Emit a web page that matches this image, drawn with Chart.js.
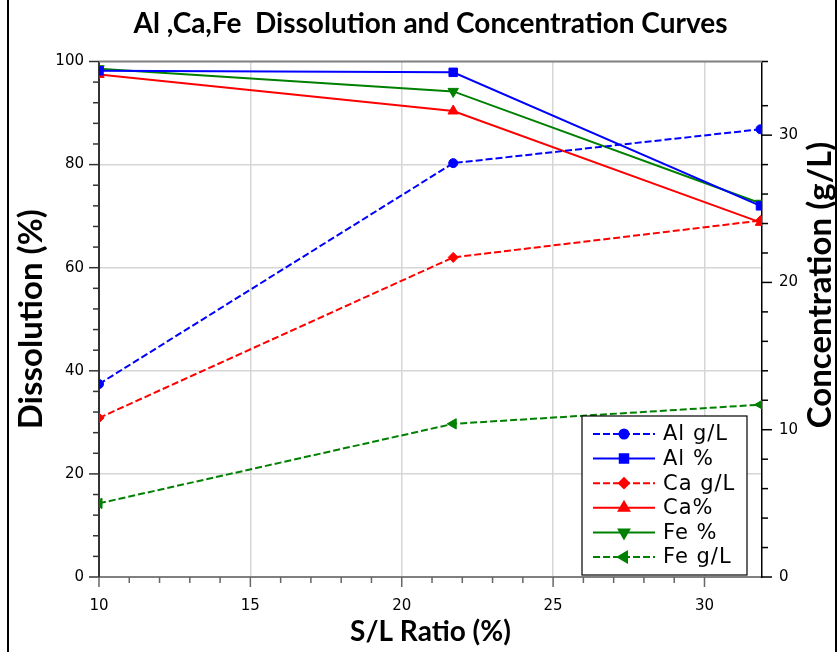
<!DOCTYPE html>
<html>
<head>
<meta charset="utf-8">
<script src="https://cdn.jsdelivr.net/npm/chart.js@4.4.1/dist/chart.umd.min.js"></script>
<style>
  html, body { margin: 0; padding: 0; background: #fff; }
  #wrap { position: relative; width: 837px; height: 652px; }
  #frame { position: absolute; left: 7px; top: 0; width: 826px; height: 652px;
           border-left: 2px solid #000; border-right: 2px solid #000; pointer-events: none; }
  canvas { position: absolute; left: 0; top: 0; }
</style>
</head>
<body>
<div id="wrap">
  <canvas id="chart" width="837" height="652"></canvas>
  <div id="frame"></div>
</div>
<script>
// S/L ratio (%) on the x axis
const ratio = [10, 21.7, 31.85];

// dissolution (%) - left axis
const alPct = [98.2, 97.9, 72.0];
const caPct = [97.5, 90.4, 68.8];
const fePct = [98.6, 94.2, 72.5];

// concentration (g/L) - right axis
const alConc = [13.1, 28.1, 30.4];
const caConc = [10.8, 21.7, 24.2];
const feConc = [5.0, 10.4, 11.7];

const BLUE = '#0000ff';
const RED = '#ff0000';
const GREEN = '#008000';

const pts = arr => arr.map((v, i) => ({ x: ratio[i], y: v }));

function series(label, values, color, axis, dashed, style, radius, rotation) {
    return {
        label: label,
        data: pts(values),
        yAxisID: axis,
        borderColor: color,
        backgroundColor: color,
        borderWidth: 2,
        borderDash: dashed ? [7, 3] : [],
        pointStyle: style,
        pointRadius: radius,
        pointRotation: rotation || 0,
        pointBorderWidth: 1,
        tension: 0
    };
}

const datasets = [
    series('Al g/L', alConc, BLUE, 'y2', true, 'circle', 4.5),
    series('Al %', alPct, BLUE, 'y', false, 'rect', 6),
    series('Ca g/L', caConc, RED, 'y2', true, 'rectRot', 5),
    series('Ca%', caPct, RED, 'y', false, 'triangle', 6),
    series('Fe %', fePct, GREEN, 'y', false, 'triangle', 6, 180),
    series('Fe g/L', feConc, GREEN, 'y2', true, 'triangle', 6, 270)
];

const tickFont = { family: 'DejaVu Sans', size: 15 };
const titleFont = { family: 'Lato', size: 28, weight: 'bold' };
const yTitleFont = { family: 'Lato', size: 33, weight: 'bold' };

// minor + major tick marks, top frame line, right axis title
const axisDecor = {
    id: 'axisDecor',
    afterDraw(chart) {
        const ctx = chart.ctx;
        const area = chart.chartArea;
        const sx = chart.scales.x, sy = chart.scales.y, sy2 = chart.scales.y2;
        ctx.save();

        // top frame
        ctx.strokeStyle = '#808080';
        ctx.lineWidth = 2;
        ctx.beginPath();
        ctx.moveTo(area.left, area.top);
        ctx.lineTo(area.right, area.top);
        ctx.stroke();

        const marks = (scale, major, color, draw) => {
            ctx.strokeStyle = color;
            ctx.lineWidth = 1.5;
            scale.ticks.forEach(t => {
                const v = t.value;
                if (Math.abs(v - Math.round(v)) > 1e-6) return;
                const len = (Math.round(v) % major === 0) ? 10 : 6;
                const p = scale.getPixelForValue(v);
                ctx.beginPath();
                draw(p, len);
                ctx.stroke();
            });
        };
        marks(sy, 20, '#333', (p, len) => { ctx.moveTo(area.left, p); ctx.lineTo(area.left - len, p); });
        marks(sy2, 10, '#000', (p, len) => { ctx.moveTo(area.right, p); ctx.lineTo(area.right + len, p); });
        marks(sx, 5, '#666', (p, len) => { ctx.moveTo(p, area.bottom); ctx.lineTo(p, area.bottom + len); });

        // right axis title, reading bottom to top
        ctx.fillStyle = '#000';
        ctx.font = 'bold 33px Lato';
        ctx.textAlign = 'center';
        ctx.textBaseline = 'middle';
        ctx.translate(820, 285);
        ctx.rotate(-Math.PI / 2);
        ctx.fillText('Concentration (g/L)', 0, 0);
        ctx.restore();
    }
};

// legend box sitting inside the plot
const boxLegend = {
    id: 'boxLegend',
    afterDraw(chart) {
        const ctx = chart.ctx;
        const left = 582, top = 416, w = 165, h = 159;
        ctx.save();
        ctx.fillStyle = '#fff';
        ctx.fillRect(left, top, w, h);
        ctx.strokeStyle = '#000';
        ctx.lineWidth = 1.2;
        ctx.strokeRect(left, top, w, h);
        ctx.font = '21px "DejaVu Sans"';
        ctx.letterSpacing = '1px';
        ctx.textBaseline = 'middle';
        ctx.textAlign = 'left';
        chart.data.datasets.forEach((ds, i) => {
            const y = top + 18 + i * 24.6;
            ctx.strokeStyle = ds.borderColor;
            ctx.lineWidth = 2;
            ctx.setLineDash(ds.borderDash);
            ctx.beginPath();
            ctx.moveTo(left + 11, y);
            ctx.lineTo(left + 73, y);
            ctx.stroke();
            ctx.setLineDash([]);
            ctx.fillStyle = ds.backgroundColor;
            Chart.helpers.drawPoint(ctx, {
                pointStyle: ds.pointStyle,
                radius: ds.pointRadius,
                rotation: ds.pointRotation,
                borderWidth: 1
            }, left + 42, y);
            ctx.fillStyle = '#000';
            ctx.fillText(ds.label, left + 81, y + 1);
        });
        ctx.restore();
    }
};

new Chart(document.getElementById('chart'), {
    type: 'line',
    data: { datasets: datasets },
    options: {
        responsive: false,
        animation: false,
        layout: { padding: 0 },
        plugins: {
            legend: { display: false },
            tooltip: { enabled: false },
            title: {
                display: true,
                fullSize: false,
                text: 'Al ,Ca,Fe  Dissolution and Concentration Curves',
                color: '#000',
                font: titleFont,
                padding: { top: 7.2, bottom: 20.7 }
            }
        },
        scales: {
            x: {
                type: 'linear',
                min: 10,
                max: 31.9,
                afterFit: s => { s.height = 75; },
                border: { color: '#808080', width: 2 },
                grid: {
                    drawTicks: false,
                    lineWidth: 1.5,
                    color: c => (c.tick && c.tick.value % 5 === 0 && c.tick.value !== 10) ? '#d6d6d6' : 'rgba(0,0,0,0)'
                },
                ticks: {
                    stepSize: 1,
                    autoSkip: false,
                    maxRotation: 0,
                    padding: 20,
                    color: '#000',
                    font: tickFont,
                    callback: v => (v % 5 === 0 ? String(v) : '')
                },
                title: {
                    display: true,
                    text: 'S/L Ratio (%)',
                    color: '#000',
                    font: titleFont,
                    padding: { top: 0, bottom: 3.2 }
                }
            },
            y: {
                position: 'left',
                min: 0,
                max: 100,
                afterFit: s => { s.width = 99; },
                border: { color: '#333', width: 2 },
                grid: {
                    drawTicks: false,
                    lineWidth: 1.5,
                    color: c => (c.tick && c.tick.value % 20 === 0 && c.tick.value > 0 && c.tick.value < 100) ? '#d6d6d6' : 'rgba(0,0,0,0)'
                },
                ticks: {
                    stepSize: 4,
                    autoSkip: false,
                    padding: 15,
                    color: '#000',
                    font: tickFont,
                    callback: v => (v % 20 === 0 ? String(v) : '')
                },
                title: {
                    display: true,
                    text: 'Dissolution (%)',
                    color: '#000',
                    font: yTitleFont,
                    padding: { top: 11.7, bottom: 0 }
                }
            },
            y2: {
                position: 'right',
                min: 0,
                max: 35,
                afterFit: s => { s.width = 75; },
                border: { color: '#000', width: 1.5 },
                grid: { drawOnChartArea: false, drawTicks: false },
                ticks: {
                    stepSize: 2,
                    autoSkip: false,
                    padding: 17,
                    color: '#000',
                    font: tickFont,
                    callback: v => (v % 10 === 0 ? String(v) : '')
                }
            }
        }
    },
    plugins: [axisDecor, boxLegend]
});
</script>
</body>
</html>
